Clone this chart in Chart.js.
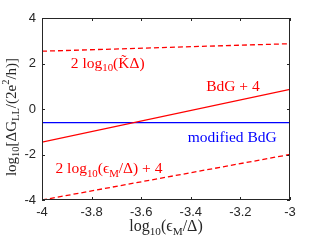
<!DOCTYPE html>
<html>
<head>
<meta charset="UTF-8">
<script src="https://cdn.jsdelivr.net/npm/chart.js"></script>
<style>
    body { margin: 0; background: #fff; }
    #wrap { width: 321px; height: 241px; }
</style>
</head>
<body>
<div id="wrap"><canvas id="c"></canvas></div>
<script>
// x values (log10(eps_M/Delta))
const xVals = [-4, -3];
// series
const kDelta = [2.54, 2.87];      // 2 log10(K~ Delta)
const bdgPlus4 = [-1.46, 0.86];   // BdG + 4
const modBdg = [-0.6, -0.6];      // modified BdG
const epsPlus4 = [-4, -2];        // 2 log10(eps_M/Delta) + 4
const xTicks = [-4, -3.8, -3.6, -3.4, -3.2, -3];
const yTicks = [-4, -2, 0, 2, 4];

const SERIF = '"Liberation Serif", "DejaVu Serif", serif';
const SANS = '"Liberation Sans", Arial, sans-serif';

// rich text pieces: [text, mode] mode 0 normal, 1 sub, 2 sup
function drawRich(ctx, parts, size, color) {
    let w = 0;
    const widths = parts.map(p => {
        const s = p[1] ? size * 0.7 : size;
        ctx.font = s + 'px ' + SERIF;
        const m = ctx.measureText(p[0]).width;
        w += m;
        return m;
    });
    let x = -w / 2;
    ctx.fillStyle = color;
    ctx.textBaseline = 'middle';
    ctx.textAlign = 'left';
    parts.forEach((p, i) => {
        const s = p[1] ? size * 0.7 : size;
        ctx.font = s + 'px ' + SERIF;
        let dy = 0;
        if (p[1] === 1) dy = size * 0.3;
        if (p[1] === 2) dy = -size * 0.38;
        ctx.fillText(p[0], x, dy);
        x += widths[i];
    });
}

const notes = [
    { x: -3.735, y: 1.98, color: '#ff0000', parts: [['2 log', 0], ['10', 1], ['(K\u0303\u0394)', 0]] },
    { x: -3.23, y: 0.95, color: '#ff0000', parts: [['BdG + 4', 0]] },
    { x: -3.233, y: -1.25, color: '#0000ff', parts: [['modified BdG', 0]] },
    { x: -3.73, y: -2.64, color: '#ff0000', parts: [['2 log', 0], ['10', 1], ['(\u03f5', 0], ['M', 1], ['/\u0394) + 4', 0]] }
];

const decor = {
    id: 'decor',
    afterDatasetsDraw(chart) {
        const ctx = chart.ctx;
        const a = chart.chartArea;
        const xs = chart.scales.x, ys = chart.scales.y;
        ctx.save();
        ctx.strokeStyle = '#262626';
        ctx.lineWidth = 1;
        ctx.strokeRect(a.left + 0.5, a.top + 0.5, a.right - a.left - 1, a.bottom - a.top - 1);
        ctx.beginPath();
        xTicks.forEach(v => {
            const px = Math.round(xs.getPixelForValue(v)) + 0.5;
            ctx.moveTo(px, a.bottom); ctx.lineTo(px, a.bottom - 3);
            ctx.moveTo(px, a.top); ctx.lineTo(px, a.top + 3);
        });
        yTicks.forEach(v => {
            const py = Math.round(ys.getPixelForValue(v)) + 0.5;
            ctx.moveTo(a.left, py); ctx.lineTo(a.left + 3, py);
            ctx.moveTo(a.right, py); ctx.lineTo(a.right - 3, py);
        });
        ctx.stroke();

        notes.forEach(n => {
            ctx.save();
            ctx.translate(xs.getPixelForValue(n.x), ys.getPixelForValue(n.y));
            drawRich(ctx, n.parts, 15.5, n.color);
            ctx.restore();
        });

        // axis titles
        ctx.save();
        ctx.translate((a.left + a.right) / 2, 227);
        drawRich(ctx, [['log', 0], ['10', 1], ['(\u03f5', 0], ['M', 1], ['/\u0394)', 0]], 16, '#262626');
        ctx.restore();

        ctx.save();
        ctx.translate(12, 117);
        ctx.rotate(-Math.PI / 2);
        drawRich(ctx, [['log', 0], ['10', 1], ['[\u0394G', 0], ['LL', 1], ['/(2e', 0], ['2', 2], ['/h)]', 0]], 15, '#262626');
        ctx.restore();
        ctx.restore();
    }
};

const pts = arr => xVals.map((x, i) => ({ x: x, y: arr[i] }));

new Chart(document.getElementById('c'), {
    type: 'line',
    data: {
        datasets: [
            { data: pts(kDelta), borderColor: '#ff0000', borderWidth: 1.3, borderDash: [5, 3], pointRadius: 0 },
            { data: pts(bdgPlus4), borderColor: '#ff0000', borderWidth: 1.3, pointRadius: 0 },
            { data: pts(modBdg), borderColor: '#0000ff', borderWidth: 1.3, pointRadius: 0 },
            { data: pts(epsPlus4), borderColor: '#ff0000', borderWidth: 1.3, borderDash: [5, 3], pointRadius: 0 }
        ]
    },
    options: {
        responsive: true,
        maintainAspectRatio: false,
        animation: false,
        layout: { padding: { top: 18, right: 31, left: 0, bottom: 0 } },
        plugins: { legend: { display: false }, tooltip: { enabled: false } },
        scales: {
            x: {
                type: 'linear', min: -4, max: -3,
                afterBuildTicks: s => { s.ticks = xTicks.map(v => ({ value: v })); },
                afterFit: s => { s.height = 41; },
                grid: { display: false, drawTicks: false },
                border: { display: false },
                ticks: {
                    padding: 5, color: '#262626', maxRotation: 0,
                    font: { family: SANS, size: 13 },
                    callback: v => String(Number(v.toFixed(1)))
                }
            },
            y: {
                min: -4, max: 4,
                afterBuildTicks: s => { s.ticks = yTicks.map(v => ({ value: v })); },
                afterFit: s => { s.width = 42; },
                grid: { display: false, drawTicks: false },
                border: { display: false },
                ticks: {
                    padding: 6, color: '#262626',
                    font: { family: SANS, size: 13 }
                }
            }
        }
    },
    plugins: [decor]
});
</script>
</body>
</html>
